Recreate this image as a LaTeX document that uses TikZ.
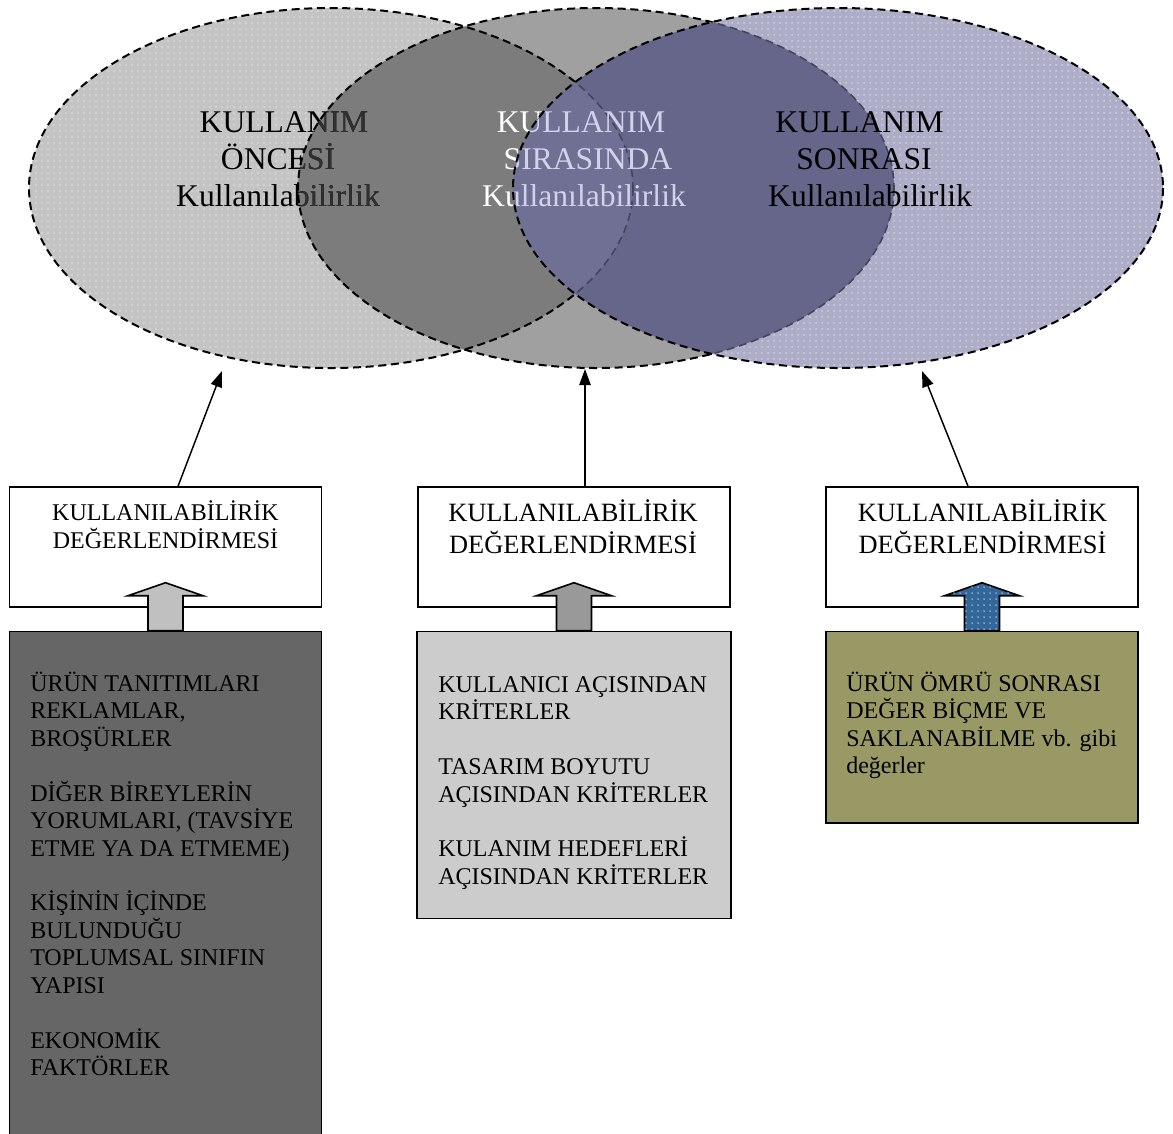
\documentclass[tikz,border=0pt]{standalone}
\usepackage{fontspec}
\setmainfont{Liberation Serif}
\usetikzlibrary{arrows.meta,patterns.meta}

% fills of the three usability phases and their overlaps
\definecolor{preFill}{HTML}{C4C4C4}
\definecolor{durFill}{HTML}{A0A0A0}
\definecolor{lensFill}{HTML}{7C7C7C}
\definecolor{postFill}{HTML}{ADADC8}
\definecolor{durPost}{HTML}{66668A}
\definecolor{allThree}{HTML}{707094}
\definecolor{shadeText}{HTML}{303030}
\definecolor{tintText}{HTML}{D2D2EC}
\definecolor{faintEdge}{HTML}{44445E}
% source boxes and feed arrows
\definecolor{srcA}{HTML}{666666}
\definecolor{srcB}{HTML}{CCCCCC}
\definecolor{srcC}{HTML}{999966}
\definecolor{blkA}{HTML}{C0C0C0}
\definecolor{blkB}{HTML}{999999}
\definecolor{blkC}{HTML}{336699}

\begin{document}
\begin{tikzpicture}[x=0.75pt,y=-0.75pt,
  rim/.style={draw=black, line width=1.5pt, dash pattern=on 6pt off 3.5pt},
  faintrim/.style={draw=faintEdge, line width=1.2pt, dash pattern=on 6pt off 3.5pt},
  whitedots/.style={pattern={Dots[distance=4.5pt, radius=0.55pt]}, pattern color=white},
  ellText/.style={font=\fontsize{23.7}{27.75}\selectfont, align=center, inner sep=0pt},
  evalBox/.style={draw=black, line width=1.2pt, fill=white, minimum width=234pt, minimum height=90pt, inner sep=0pt},
  evalText/.style={align=center, inner sep=0pt},
  srcBox/.style={draw=black, line width=1.2pt, inner sep=0pt},
  srcText/.style={font=\fontsize{18}{20.6}\selectfont, align=left, anchor=north west, inner sep=0pt},
  feed/.style={draw=black, line width=1.2pt, line join=miter},
  link/.style={draw=black, line width=1.1pt, -{Triangle[length=12pt,width=8.5pt]}}
]
\useasboundingbox (0,0) rectangle (1173,1133);

% ---- before use: left ellipse
\fill[preFill] (331,188) ellipse (302 and 180);
\fill[whitedots] (331,188) ellipse (302 and 180);
% ---- during use: middle ellipse
\fill[durFill] (596,188) ellipse (298 and 180);
\begin{scope}
  \clip (331,188) ellipse (302 and 180);
  \fill[lensFill] (596,188) ellipse (298 and 180);
\end{scope}

\node[ellText] (preLbl) at (278,159)
  {\hspace*{9pt}KULLANIM\\ÖNCESİ\hspace*{7.5pt}\\Kullanılabilirlik};
\begin{scope}
  \clip (596,188) ellipse (298 and 180);
  \node[ellText, text=shadeText] (preLblShade) at (278,159)
    {\hspace*{9pt}KULLANIM\\ÖNCESİ\hspace*{7.5pt}\\Kullanılabilirlik};
\end{scope}

\draw[rim] (331,188) ellipse (302 and 180);
\draw[rim] (596,188) ellipse (298 and 180);

\node[ellText, text=white] (durLbl) at (584,159)
  {KULLANIM\hspace*{4.5pt}\\\hspace*{6pt}SIRASINDA\\Kullanılabilirlik};

% ---- after use: right ellipse, laid over the others
\fill[postFill] (838,188) ellipse (325 and 180);
\fill[whitedots] (838,188) ellipse (325 and 180);
\begin{scope}
  \clip (838,188) ellipse (325 and 180);
  \fill[durPost] (596,188) ellipse (298 and 180);
  \begin{scope}
    \clip (331,188) ellipse (302 and 180);
    \fill[allThree] (596,188) ellipse (298 and 180);
  \end{scope}
  \draw[faintrim] (331,188) ellipse (302 and 180);
  \draw[faintrim] (596,188) ellipse (298 and 180);
  \node[ellText, text=tintText] (durLblTint) at (584,159)
    {KULLANIM\hspace*{4.5pt}\\\hspace*{6pt}SIRASINDA\\Kullanılabilirlik};
\end{scope}
\draw[rim] (838,188) ellipse (325 and 180);

\node[ellText] (postLbl) at (864,159)
  {KULLANIM\hspace*{6.75pt}\\SONRASI\hspace*{13.5pt}\\\hspace*{9pt}Kullanılabilirlik};

% ---- evaluation boxes
\node[evalBox] (evalPre)  at (165.5,547) {};
\node[evalBox] (evalDur)  at (574,547) {};
\node[evalBox] (evalPost) at (982,547) {};

\node[evalText, font=\fontsize{18}{21}\selectfont] (evalPreTxt) at (165.5,525)
  {KULLANILABİLİRİK\\DEĞERLENDİRMESİ};
\node[evalText, font=\fontsize{19.8}{24}\selectfont] (evalDurTxt) at (573,527)
  {KULLANILABİLİRİK\\DEĞERLENDİRMESİ};
\node[evalText, font=\fontsize{19.8}{24}\selectfont] (evalPostTxt) at (982.5,527)
  {KULLANILABİLİRİK\\DEĞERLENDİRMESİ};

% ---- source boxes
\node[srcBox, fill=srcA, minimum width=234pt, minimum height=385.5pt] (srcPre) at (165.5,888.5) {};
\node[srcBox, fill=srcB, minimum width=235.5pt, minimum height=215.25pt] (srcDur) at (574,775) {};
\node[srcBox, fill=srcC, minimum width=234.4pt, minimum height=143.6pt] (srcPost) at (982,727.25) {};

\node[srcText] (srcPreTxt) at (30,671.5)
  {ÜRÜN TANITIMLARI\\REKLAMLAR,\\BROŞÜRLER\\[20.6pt]%
   DİĞER BİREYLERİN\\YORUMLARI, (TAVSİYE\\ETME YA DA ETMEME)\\[20.6pt]%
   KİŞİNİN İÇİNDE\\BULUNDUĞU\\TOPLUMSAL SINIFIN\\YAPISI\\[20.6pt]%
   EKONOMİK\\FAKTÖRLER};
\node[srcText] (srcDurTxt) at (438,676)
  {KULLANICI AÇISINDAN\\KRİTERLER\\[20.6pt]%
   TASARIM BOYUTU\\AÇISINDAN KRİTERLER\\[20.6pt]%
   KULANIM HEDEFLERİ\\AÇISINDAN KRİTERLER};
\node[srcText] (srcPostTxt) at (846,671.5)
  {ÜRÜN ÖMRÜ SONRASI\\DEĞER BİÇME VE\\SAKLANABİLME vb. gibi\\değerler};

% ---- block arrows from the sources into the evaluations
\draw[feed, fill=blkA] ([xshift=-13.125pt]srcPre.north) -- ++(0,-35) -- ++(-20,0)
  -- ++(37.5,-13) -- ++(37.5,13) -- ++(-20,0) -- ++(0,35) -- cycle;
\draw[feed, fill=blkB] ([xshift=-13.125pt]srcDur.north) -- ++(0,-35) -- ++(-20,0)
  -- ++(37.5,-13) -- ++(37.5,13) -- ++(-20,0) -- ++(0,35) -- cycle;
\draw[feed, fill=blkC, postaction={whitedots}] ([xshift=-13.125pt]srcPost.north) -- ++(0,-35) -- ++(-20,0)
  -- ++(37.5,-13) -- ++(37.5,13) -- ++(-20,0) -- ++(0,35) -- cycle;

% ---- links from the evaluations up to the phases
\coordinate (aimPre)  at (222,371);
\coordinate (aimDur)  at (585,369);
\coordinate (aimPost) at (922,371);
\draw[link] ([xshift=9.4pt]evalPre.north) -- (aimPre);
\draw[link] ([xshift=8.25pt]evalDur.north) -- (aimDur);
\draw[link] ([xshift=-10.5pt]evalPost.north) -- (aimPost);
\end{tikzpicture}
\end{document}
